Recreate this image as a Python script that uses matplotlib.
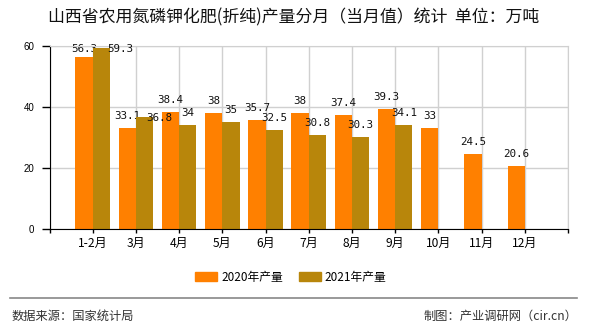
import matplotlib
matplotlib.use("Agg")
import matplotlib.pyplot as plt
from matplotlib.patches import Patch
from matplotlib.lines import Line2D

plt.rcParams['font.family'] = ['Noto Sans CJK SC', 'DejaVu Sans']

months = ['1-2月', '3月', '4月', '5月', '6月', '7月', '8月', '9月', '10月', '11月', '12月']
prod_2020 = [56.3, 33.1, 38.4, 38, 35.7, 38, 37.4, 39.3, 33, 24.5, 20.6]
prod_2021 = [59.3, 36.8, 34, 35, 32.5, 30.8, 30.3, 34.1]
y_ticks = [0, 20, 40, 60]

c2020 = '#FF8000'
c2021 = '#B8860B'

fig = plt.figure(figsize=(5.9, 3.3), dpi=100)
ax = fig.add_axes([49.5 / 590, 1 - 229 / 330, (568 - 49.5) / 590, (229 - 46) / 330])

x20 = [i - 0.2 for i in range(len(prod_2020))]
x21 = [i + 0.2 for i in range(len(prod_2021))]
ax.bar(x20, prod_2020, width=0.4, color=c2020, zorder=2)
ax.bar(x21, prod_2021, width=0.4, color=c2021, zorder=3)

# label nudges (pixels) where the labels would collide
nudge20 = {0: (0, 8)}
nudge21 = {0: (19, -1), 1: (15, -1)}

def put_labels(xs, vals, nudge, z):
    for i, (x, v) in enumerate(zip(xs, vals)):
        dx, dy = nudge.get(i, (0, 12))
        ax.annotate(f'{v:g}', (x, v), xytext=(dx, dy), textcoords='offset pixels',
                    ha='center', va='center', fontsize=7.8, family='DejaVu Sans Mono',
                    color='#111111', zorder=z)

put_labels(x20, prod_2020, nudge20, 2.5)
put_labels(x21, prod_2021, nudge21, 4)

ax.set_xlim(-1, len(months))
ax.set_ylim(0, 60)
ax.set_xticks(range(-1, len(months) + 1))
ax.set_xticklabels([''] + months + [''], fontsize=8.7)
ax.set_yticks(y_ticks)
ax.set_yticklabels([str(t) for t in y_ticks], fontsize=7, family='Liberation Sans')
ax.tick_params(axis='x', length=3, width=1, pad=3, color='black')
ax.tick_params(axis='y', length=6, width=1, pad=5, color='black')

ax.grid(True, color='#d0d0d0', linewidth=1, zorder=0)
ax.set_axisbelow(True)
for s in ['top', 'right']:
    ax.spines[s].set_color('#d0d0d0')
ax.spines['left'].set_color('black')
ax.spines['bottom'].set_color('black')
ax.spines['bottom'].set_zorder(5)

fig.text(294 / 590, 1 - 17.5 / 330,
         '山西省农用氮磷钾化肥(折纯)产量分月（当月值）统计  单位：万吨',
         ha='center', va='center', fontsize=12.2, color='#111111')

handles = [Patch(color=c2020, label='2020年产量'), Patch(color=c2021, label='2021年产量')]
fig.legend(handles=handles, loc='center', bbox_to_anchor=(291 / 590, 1 - 277.3 / 330),
           ncol=2, frameon=False, fontsize=8.5, handlelength=1.85, handleheight=0.75,
           handletextpad=0.35, columnspacing=1.35)

fig.add_artist(Line2D([10 / 590, 577 / 590], [1 - 298.3 / 330] * 2, color='#888888', lw=1.2))
fig.text(12 / 590, 1 - 316 / 330, '数据来源：国家统计局', ha='left', va='center',
         fontsize=8.8, color='#333333')
fig.text(577 / 590, 1 - 316 / 330, '制图：产业调研网（cir.cn）', ha='right', va='center',
         fontsize=8.8, color='#333333')

fig.savefig('out.png', dpi=100)
